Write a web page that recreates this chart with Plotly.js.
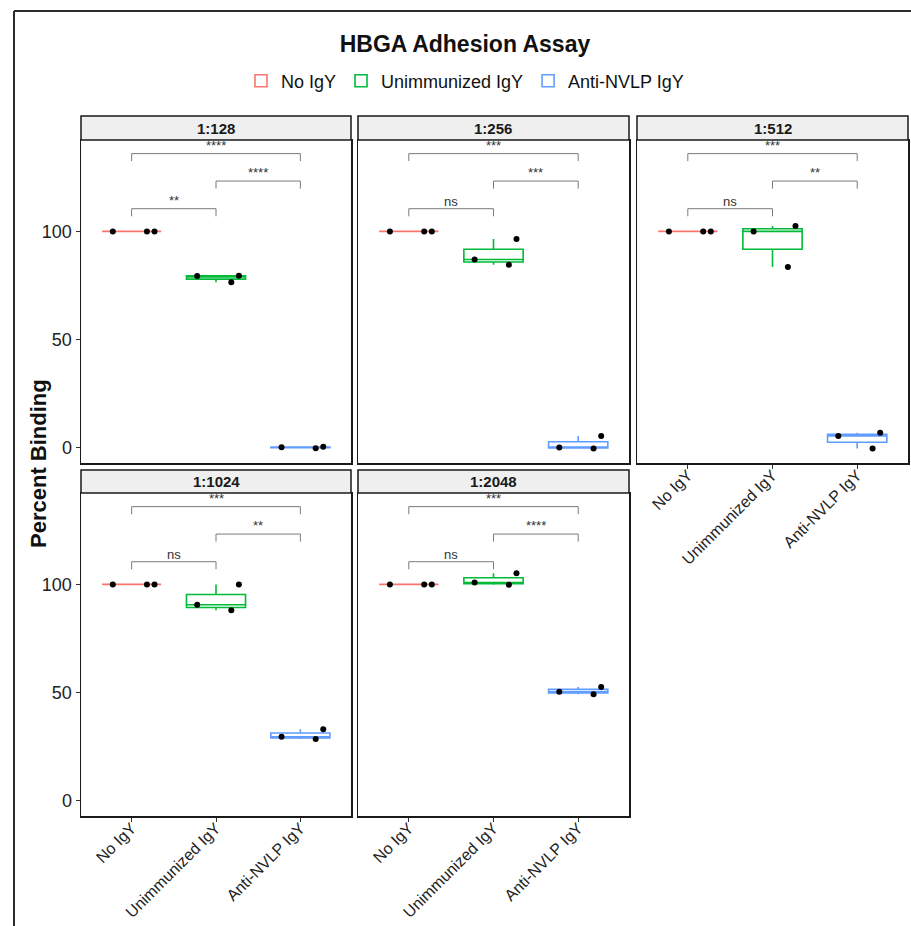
<!DOCTYPE html>
<html><head><meta charset="utf-8">
<script src="https://cdn.plot.ly/plotly-3.0.1.min.js"></script>
<style>html,body{margin:0;padding:0;background:#fff}</style>
</head><body><div id="chart" style="width:911px;height:926px"></div>
<script>
// ---- data ----
const groups = ['No IgY', 'Unimmunized IgY', 'Anti-NVLP IgY'];
const groupColors = ['#F8766D', '#00BA38', '#619CFF'];
const dilutions = ['1:128', '1:256', '1:512', '1:1024', '1:2048'];
const noIgY = [[100, 100, 100], [100, 100, 100], [100, 100, 100], [100, 100, 100], [100, 100, 100]];
const unimmunizedIgY = [[76.5, 79.3, 79.5], [84.6, 87.0, 96.5], [83.5, 100, 102.5], [88.0, 90.6, 100], [99.8, 100.9, 105.2]];
const antiNVLPIgY = [[0.1, 0.3, -0.4], [-0.5, 0, 5.3], [-0.5, 5.3, 6.8], [28.4, 29.5, 32.9], [49.2, 50.3, 52.5]];
const comparisons = [[0, 2], [1, 2], [0, 1]];
const bracketLevels = [136, 123.3, 110.5];
const sigLabels = [
  ['****', '****', '**'],
  ['***', '***', 'ns'],
  ['***', '**', 'ns'],
  ['***', '**', 'ns'],
  ['***', '****', 'ns']
];
const yTicks = [0, 50, 100];

// ---- layout geometry ----
const W = 911, H = 926;
const FONT = 'Liberation Sans, Arial, Helvetica, sans-serif';
const panelX = [[81, 351], [358, 629], [637, 908], [81, 351], [358, 629]];
const panelRow = [0, 0, 0, 1, 1];
const rowPlot = [[140, 463], [493, 816]];
const rowStrip = [[116, 140], [470, 493]];
const showXLabels = [false, false, true, true, true];
const showYLabels = [true, false, false, true, false];

const seriesByGroup = [noIgY, unimmunizedIgY, antiNVLPIgY];
const traces = [];
const layout = {
  width: W, height: H,
  margin: {l: 0, r: 0, t: 0, b: 0, autoexpand: false},
  paper_bgcolor: '#fff', plot_bgcolor: '#fff',
  font: {family: FONT, color: '#222'},
  boxmode: 'overlay',
  showlegend: true,
  title: {
    text: '<b>HBGA Adhesion Assay</b>',
    x: 465 / W, xref: 'container', xanchor: 'center',
    y: 1 - 44 / H, yref: 'container', yanchor: 'middle',
    font: {family: FONT, size: 23, color: '#111'}
  },
  legend: {
    orientation: 'h', x: 465 / W, xanchor: 'center', y: 1 - 81 / H, yanchor: 'middle',
    font: {family: FONT, size: 18, color: '#111'}, itemclick: false,
    bgcolor: 'rgba(0,0,0,0)', tracegroupgap: 0
  },
  shapes: [],
  annotations: []
};

dilutions.forEach((dil, p) => {
  const sx = p === 0 ? '' : String(p + 1);
  const xa = 'x' + sx, ya = 'y' + sx;
  const [px0, px1] = panelX[p];
  const [py0, py1] = rowPlot[panelRow[p]];
  const [sy0, sy1] = rowStrip[panelRow[p]];

  groups.forEach((g, gi) => {
    const vals = seriesByGroup[gi][p];
    traces.push({
      type: 'box', name: g, legendgroup: g, showlegend: p === 0,
      x: vals.map(() => g), y: vals, xaxis: xa, yaxis: ya,
      width: 0.7, whiskerwidth: 0, quartilemethod: 'inclusive',
      line: {color: groupColors[gi], width: 1.6}, fillcolor: 'white',
      boxpoints: 'all', jitter: 1, pointpos: 0,
      marker: {color: 'black', size: 6, line: {width: 0}},
      hoverinfo: 'y'
    });
  });

  layout['xaxis' + sx] = {
    domain: [px0 / W, px1 / W], anchor: ya,
    type: 'category', categoryorder: 'array', categoryarray: groups,
    range: [-0.6, 2.6], fixedrange: true,
    showline: true, mirror: true, linecolor: '#1a1a1a', linewidth: 1.5,
    showgrid: false, zeroline: false,
    ticks: showXLabels[p] ? 'outside' : '', ticklen: 4, tickwidth: 1, tickcolor: '#333',
    showticklabels: showXLabels[p], tickangle: -45, ticklabelstandoff: -9,
    tickfont: {family: FONT, size: 16, color: '#222'}
  };
  layout['yaxis' + sx] = {
    domain: [1 - py1 / H, 1 - py0 / H], anchor: xa,
    range: [-7.2, 142.3], fixedrange: true,
    tickmode: 'array', tickvals: yTicks, ticktext: yTicks.map(String),
    showline: true, mirror: true, linecolor: '#1a1a1a', linewidth: 1.5,
    showgrid: false, zeroline: false,
    ticks: showYLabels[p] ? 'outside' : '', ticklen: 4, tickwidth: 1, tickcolor: '#333',
    showticklabels: showYLabels[p],
    tickfont: {family: FONT, size: 18, color: '#222'}
  };

  // facet strip
  layout.shapes.push({
    type: 'rect', xref: 'paper', yref: 'paper',
    x0: px0 / W, x1: px1 / W, y0: 1 - sy1 / H, y1: 1 - sy0 / H,
    fillcolor: '#EFEFEF', line: {color: '#1a1a1a', width: 1.5}, layer: 'above'
  });
  layout.annotations.push({
    xref: 'paper', yref: 'paper', x: (px0 + px1) / 2 / W, y: 1 - (sy0 + sy1) / 2 / H,
    text: '<b>' + dil + '</b>', showarrow: false, xanchor: 'center', yanchor: 'middle',
    font: {family: FONT, size: 15, color: '#1a1a1a'}
  });

  // significance brackets
  comparisons.forEach(([a, b], ci) => {
    const yv = bracketLevels[ci];
    const drop = 3.5;
    const ln = {color: '#7a7a7a', width: 1};
    layout.shapes.push({type: 'line', xref: xa, yref: ya, x0: a, x1: b, y0: yv, y1: yv, line: ln});
    layout.shapes.push({type: 'line', xref: xa, yref: ya, x0: a, x1: a, y0: yv, y1: yv - drop, line: ln});
    layout.shapes.push({type: 'line', xref: xa, yref: ya, x0: b, x1: b, y0: yv, y1: yv - drop, line: ln});
    const lab = sigLabels[p][ci];
    layout.annotations.push({
      xref: xa, yref: ya, x: (a + b) / 2, y: yv, text: lab, showarrow: false,
      xanchor: 'center', yanchor: 'bottom', yshift: lab === 'ns' ? -2 : -1,
      font: {family: FONT, size: 13, color: '#333'}
    });
  });
});

// y-axis title
layout.annotations.push({
  xref: 'paper', yref: 'paper', x: 39 / W, y: 1 - 464 / H,
  text: '<b>Percent Binding</b>', textangle: -90, showarrow: false,
  xanchor: 'center', yanchor: 'middle',
  font: {family: FONT, size: 22, color: '#111'}
});

// outer frame (top and left edges)
layout.shapes.push({type: 'line', xref: 'paper', yref: 'paper', x0: 14 / W, x1: 1.01, y0: 1 - 11 / H, y1: 1 - 11 / H, line: {color: '#2a2a2a', width: 2}});
layout.shapes.push({type: 'line', xref: 'paper', yref: 'paper', x0: 14 / W, x1: 14 / W, y0: -0.01, y1: 1 - 11 / H, line: {color: '#2a2a2a', width: 2}});

Plotly.newPlot('chart', traces, layout, {displayModeBar: false, staticPlot: true});
</script>
</body></html>
